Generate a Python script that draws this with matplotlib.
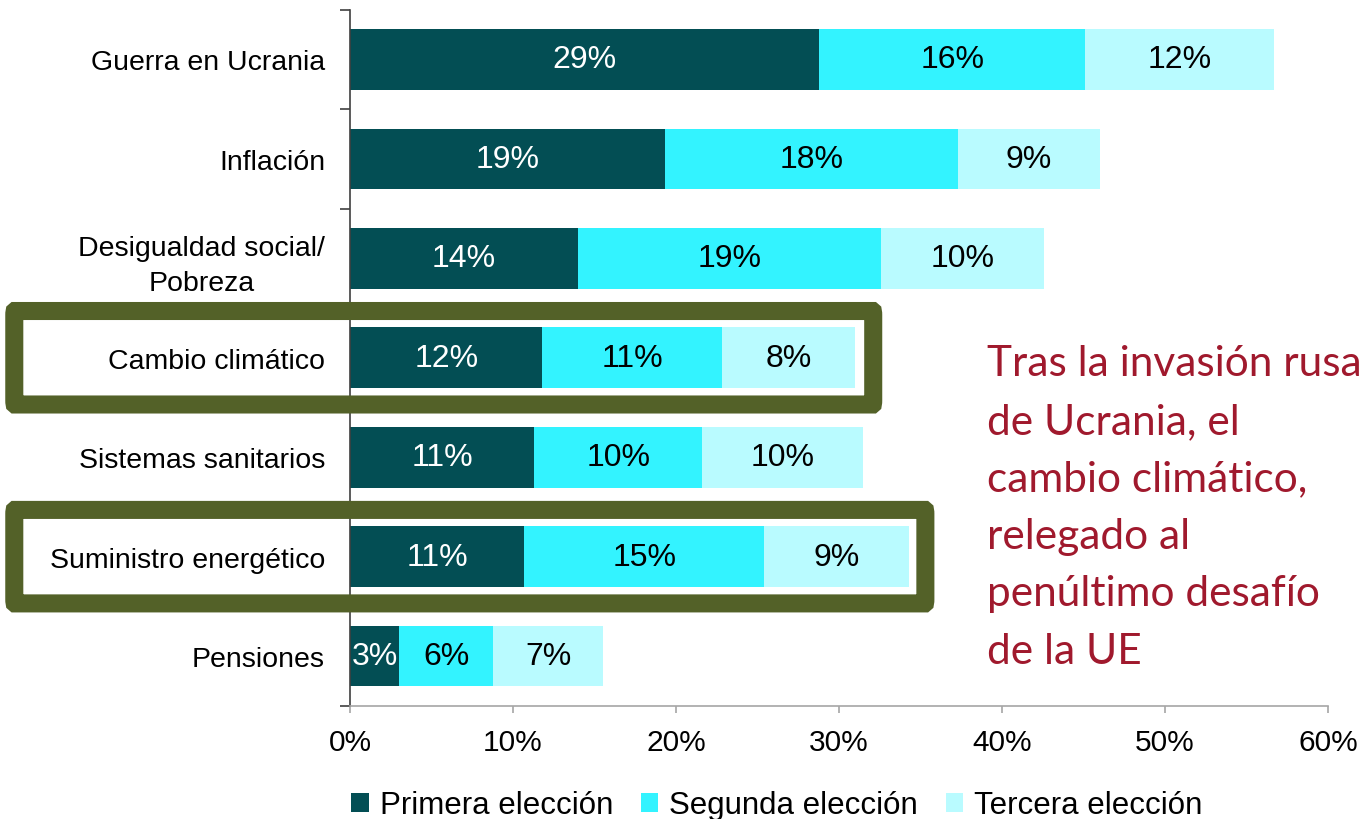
import matplotlib.pyplot as plt
from matplotlib.patches import FancyBboxPatch
import numpy as np

# data (percent)
categories = ['Guerra en Ucrania', 'Inflación', 'Desigualdad social/\nPobreza',
              'Cambio climático', 'Sistemas sanitarios', 'Suministro energético',
              'Pensiones']
primera = [28.8, 19.3, 14.0, 11.8, 11.3, 10.7, 3.0]
segunda = [16.3, 18.0, 18.6, 11.0, 10.3, 14.7, 5.8]
tercera = [11.6, 8.7, 10.0, 8.2, 9.9, 8.9, 6.7]
series_names = ['Primera elección', 'Segunda elección', 'Tercera elección']
colors = ['#034E54', '#33F3FF', '#B9FBFF']
text_colors = ['white', 'black', 'black']
boxed = ['Cambio climático', 'Suministro energético']
box_right = [32.1, 35.3]   # right edge of the highlight boxes (data units)

note = 'Tras la invasión rusa\nde Ucrania, el\ncambio climático,\nrelegado al\npenúltimo desafío\nde la UE'

plt.rcParams['font.family'] = ['Liberation Sans', 'DejaVu Sans']

fig = plt.figure(figsize=(13.62, 8.2), dpi=100)
ax = fig.add_axes([0.257, 0.138, 0.718, 0.849])

y = np.arange(len(categories))
left = np.zeros(len(categories))
for vals, name, col, tc in zip([primera, segunda, tercera], series_names, colors, text_colors):
    bars = ax.barh(y, vals, left=left, height=0.61, color=col, label=name)
    for b, v in zip(bars, vals):
        ax.text(b.get_x() + b.get_width() / 2, b.get_y() + b.get_height() / 2,
                f'{v:.0f}%', ha='center', va='center', color=tc, fontsize=23)
    left = left + np.array(vals)

ax.set_ylim(len(categories) - 0.5, -0.5)
ax.set_xlim(0, 60)
ax.set_yticks(y)
ax.set_yticklabels(categories, fontsize=20.5, ha='right', multialignment='center',
                   linespacing=1.45)
ax.set_yticks(np.arange(-0.5, len(categories)), minor=True)
ax.tick_params(axis='y', which='major', length=0, pad=18)
ax.tick_params(axis='y', which='minor', length=7, color='#404040', width=1.2)
ax.set_xticks(np.arange(0, 61, 10))
ax.set_xticklabels([f'{t}%' for t in range(0, 61, 10)], fontsize=21.5)
ax.tick_params(axis='x', length=5, color='#A6A6A6', width=1.2, pad=11)

for s in ['top', 'right']:
    ax.spines[s].set_visible(False)
ax.spines['left'].set_color('#404040')
ax.spines['left'].set_linewidth(1.2)
ax.spines['bottom'].set_color('#A6A6A6')
ax.spines['bottom'].set_linewidth(1.2)

# highlight boxes
for cat, xr in zip(boxed, box_right):
    i = categories.index(cat)
    x0 = -20.6
    box = FancyBboxPatch((x0, i - 0.47), xr - x0, 0.94,
                         boxstyle='round,pad=0,rounding_size=0.04',
                         fill=False, edgecolor='#536128', linewidth=13,
                         clip_on=False, zorder=5)
    ax.add_patch(box)

fig.text(0.725, 0.579, note, ha='left', va='top', color='#A0192D',
         fontsize=30.5, family='Lato', linespacing=1.63)

fig.legend(loc='lower center', bbox_to_anchor=(0.5705, -0.036), ncol=3,
           frameon=False, fontsize=22.5, handlelength=0.55, handleheight=0.55,
           handletextpad=0.35, columnspacing=0.9)

fig.savefig('out.png', dpi=100)
